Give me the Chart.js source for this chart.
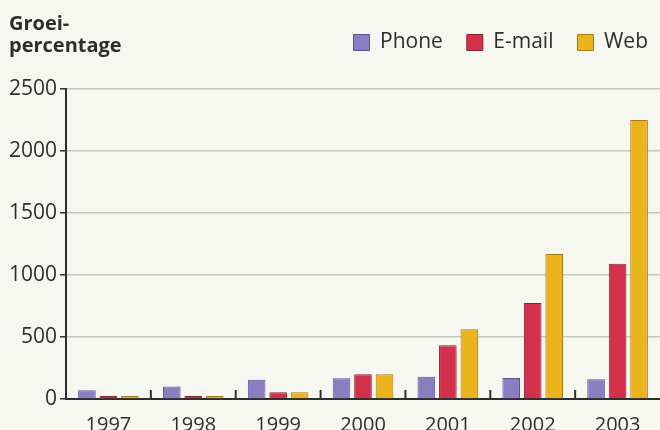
<!DOCTYPE html>
<html>
<head>
<meta charset="utf-8">
<script src="https://cdn.jsdelivr.net/npm/chart.js@4/dist/chart.umd.min.js"></script>
<style>
  html, body { margin: 0; padding: 0; background: #f7f7f2; }
  #wrap { width: 660px; height: 430px; position: relative; }
</style>
</head>
<body>
<div id="wrap"><canvas id="chart"></canvas></div>
<script>
const years = ["1997", "1998", "1999", "2000", "2001", "2002", "2003"];
const phone = [70, 100, 155, 167, 180, 170, 160];
const email = [25, 25, 55, 200, 433, 775, 1090];
const web = [25, 25, 55, 200, 562, 1170, 2250];
const titleLines = ["Groei-", "percentage"];

const FONT = "'Open Sans', 'Noto Sans', sans-serif";
const INK = "#2e2e2e";

// title top-left, and small upward ticks between the year groups
const extras = {
  id: "extras",
  afterLayout(chart) {
    // legend sits a bit closer to the right edge than the default padding
    chart.legend.left += 12;
    chart.legend.right += 12;
  },
  afterDraw(chart) {
    const c = chart.ctx;
    const x = chart.scales.x;
    const area = chart.chartArea;
    c.save();
    c.fillStyle = INK;
    c.font = "bold 20px " + FONT;
    c.textBaseline = "alphabetic";
    c.fillText(titleLines[0], 9, 30);
    c.fillText(titleLines[1], 9, 52);
    c.strokeStyle = INK;
    c.lineWidth = 2;
    for (let i = 0; i < years.length - 1; i++) {
      const px = (x.getPixelForTick(i) + x.getPixelForTick(i + 1)) / 2;
      c.beginPath();
      c.moveTo(px, area.bottom);
      c.lineTo(px, area.bottom - 9);
      c.stroke();
    }
    c.restore();
  }
};

new Chart(document.getElementById("chart"), {
  type: "bar",
  data: {
    labels: years,
    datasets: [
      { label: "Phone", data: phone, backgroundColor: "#8a7dc2", borderColor: "#5e5394", borderWidth: 1 },
      { label: "E-mail", data: email, backgroundColor: "#d3304b", borderColor: "#8e1f31", borderWidth: 1 },
      { label: "Web", data: web, backgroundColor: "#ebb41d", borderColor: "#a37b12", borderWidth: 1 }
    ]
  },
  options: {
    responsive: true,
    maintainAspectRatio: false,
    animation: false,
    layout: { padding: { top: 8, left: 0, right: 0, bottom: 0 } },
    datasets: { bar: { categoryPercentage: 0.76, barPercentage: 0.82 } },
    plugins: {
      tooltip: { enabled: false },
      legend: {
        position: "top",
        align: "end",
        labels: {
          color: INK,
          font: { family: FONT, size: 21 },
          boxWidth: 16,
          boxHeight: 16,
          padding: 24
        }
      },
      // empty spacer between legend and plot
      title: {
        display: true,
        text: "",
        weight: 500,
        font: { size: 10 },
        padding: { top: 0, bottom: 14 }
      }
    },
    scales: {
      x: {
        grid: { display: false },
        border: { color: INK, width: 2 },
        ticks: { color: INK, font: { family: FONT, size: 20 }, padding: 6 },
        afterFit: (s) => { s.height = 31; }
      },
      y: {
        min: 0,
        max: 2500,
        ticks: {
          stepSize: 500,
          color: INK,
          font: { family: FONT, size: 21 },
          padding: 3,
          callback: (v) => String(v)
        },
        grid: { color: "#c6c6c2", lineWidth: 1.5, tickColor: INK, tickLength: 6 },
        border: { color: INK, width: 2 },
        afterFit: (s) => { s.width = 66; }
      }
    }
  },
  plugins: [extras]
});
</script>
</body>
</html>
